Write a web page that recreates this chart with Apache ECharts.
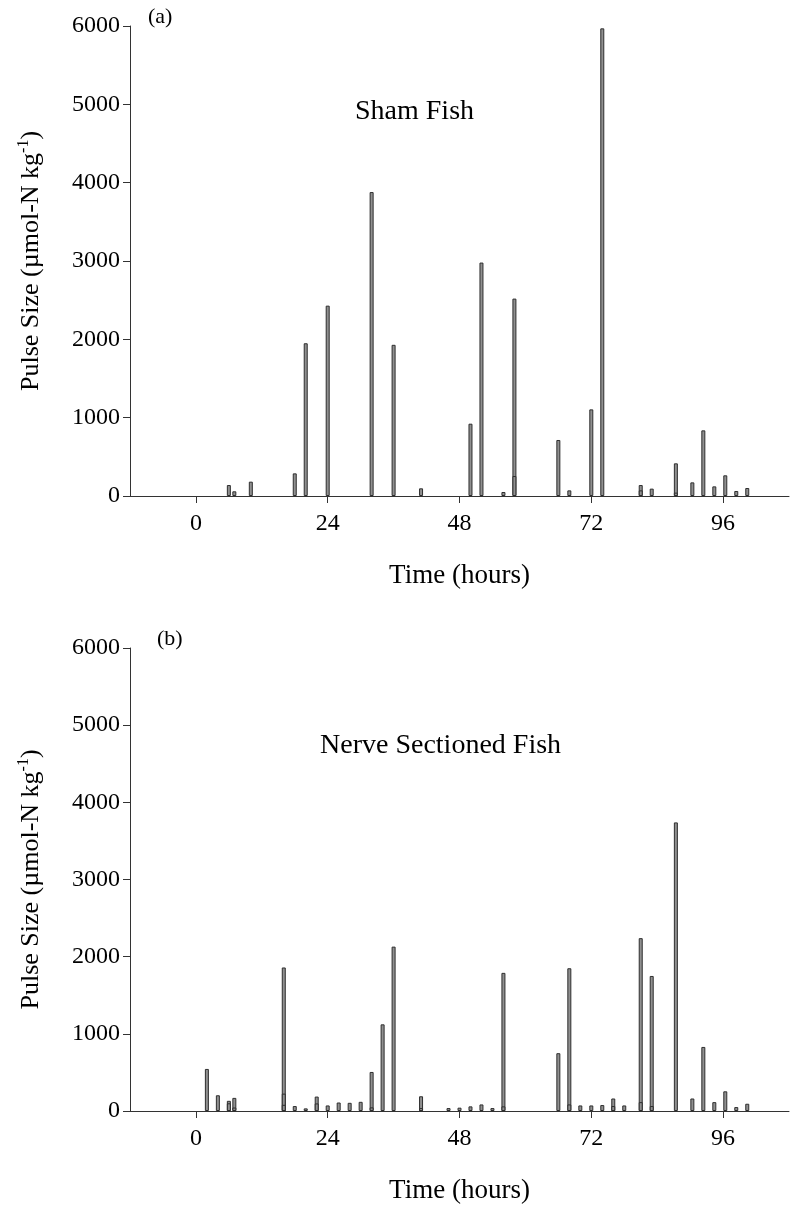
<!DOCTYPE html>
<html>
<head>
<meta charset="utf-8">
<script src="https://cdn.jsdelivr.net/npm/echarts@6/dist/echarts.min.js"></script>
<style>
  html, body { margin: 0; padding: 0; background: #fff; }
  #pulseChart { width: 792px; height: 1205px; }
</style>
</head>
<body>
<div id="pulseChart"></div>
<script>
// x ticks (hours)
var timeTicks = [0, 24, 48, 72, 96]

// (a) sham fish
var shamHours = [6, 7, 10, 18, 20, 24, 32, 36, 41, 50, 52, 56, 58, 66, 68, 72, 74, 81, 83, 87.4, 90.4, 92.4, 94.4, 96.4, 98.4, 100.4]
var shamPulse = [140, 60, 183, 289, 1950, 2430, 3880, 1930, 98, 923, 2980, 51, 2520, 715, 72, 1106, 5970, 140, 94, 417, 174, 838, 123, 264, 64, 102]
// overlapping smaller pulses (the inner lines)
var shamInnerHours = [58, 81, 87.4]
var shamInner = [255, 72, 43]

// (b) nerve sectioned fish
var nerveHours = [2, 4, 6, 7, 16, 18, 20, 22, 24, 26, 28, 30, 32, 34, 36, 41, 46, 48, 50, 52, 54, 56, 66, 68, 70, 72, 74, 76, 78, 81, 83, 87.4, 90.4, 92.4, 94.4, 96.4, 98.4, 100.4]
var nervePulse = [545, 204, 132, 170, 1860, 64, 34, 187, 72, 110, 106, 119, 506, 1123, 2130, 191, 38, 43, 60, 85, 38, 1790, 749, 1850, 72, 72, 77, 162, 72, 2240, 1750, 3740, 162, 830, 115, 255, 51, 94]
var nerveInnerHours = [6, 7, 16, 16, 22, 32, 41, 56, 68, 76, 81, 83]
var nerveInner = [100, 45, 225, 80, 98, 47, 38, 60, 85, 64, 115, 64]

var FONT = 'Liberation Serif'
var axisColor = '#333'

function pairs (xs, ys) {
  return xs.map(function (x, i) { return [x, ys[i]] })
}

function makeX (idx) {
  return {
    type: 'value',
    gridIndex: idx,
    min: -12,
    max: 108,
    name: 'Time (hours)',
    nameLocation: 'middle',
    nameGap: 66,
    nameTextStyle: { fontFamily: FONT, fontSize: 27, color: '#000' },
    axisLine: { show: true, onZero: false, lineStyle: { color: axisColor, width: 1 } },
    axisTick: { show: true, length: 7, customValues: timeTicks, lineStyle: { color: axisColor } },
    axisLabel: { customValues: timeTicks, margin: 16, fontFamily: FONT, fontSize: 24, color: '#000' },
    splitLine: { show: false }
  }
}

function makeY (idx) {
  return {
    type: 'value',
    gridIndex: idx,
    min: 0,
    max: 6000,
    interval: 1000,
    name: '{a|Pulse Size (µmol-N kg}{s|-1}{a|)}',
    nameLocation: 'middle',
    nameRotate: 90,
    nameGap: 84,
    nameTextStyle: {
      color: '#000',
      rich: {
        a: { fontFamily: FONT, fontSize: 26, color: '#000', lineHeight: 30 },
        s: { fontFamily: FONT, fontSize: 16, color: '#000', verticalAlign: 'top', lineHeight: 30 }
      }
    },
    axisLine: { show: true, onZero: false, lineStyle: { color: axisColor, width: 1 } },
    axisTick: { show: true, length: 7, lineStyle: { color: axisColor } },
    axisLabel: {
      margin: 10,
      fontFamily: FONT,
      fontSize: 24,
      color: '#000',
      formatter: function (v) { return String(v) } // no thousands separator
    },
    splitLine: { show: false }
  }
}

var barStyle = { color: '#909090', borderColor: '#2e2e2e', borderWidth: 1 }

function barSeries (idx, data) {
  return {
    type: 'bar',
    xAxisIndex: idx,
    yAxisIndex: idx,
    barWidth: 4,
    barGap: '-100%',
    itemStyle: barStyle,
    silent: true,
    data: data
  }
}

var chart = echarts.init(document.getElementById('pulseChart'), null, { renderer: 'canvas' })
chart.setOption({
  animation: false,
  backgroundColor: '#fff',
  grid: [
    { left: 130, top: 26, width: 659, height: 470 },
    { left: 130, top: 648, width: 659, height: 470 }
  ],
  title: [
    { text: '(a)', left: 148, top: 6, padding: 0, textStyle: { fontFamily: FONT, fontSize: 22, fontWeight: 'normal', color: '#000' } },
    { text: 'Sham Fish', left: 355, top: 98, padding: 0, textStyle: { fontFamily: FONT, fontSize: 28, fontWeight: 'normal', color: '#000' } },
    { text: '(b)', left: 157, top: 628, padding: 0, textStyle: { fontFamily: FONT, fontSize: 22, fontWeight: 'normal', color: '#000' } },
    { text: 'Nerve Sectioned Fish', left: 320, top: 732, padding: 0, textStyle: { fontFamily: FONT, fontSize: 28, fontWeight: 'normal', color: '#000' } }
  ],
  xAxis: [makeX(0), makeX(1)],
  yAxis: [makeY(0), makeY(1)],
  series: [
    barSeries(0, pairs(shamHours, shamPulse)),
    barSeries(0, pairs(shamInnerHours, shamInner)),
    barSeries(1, pairs(nerveHours, nervePulse)),
    barSeries(1, pairs(nerveInnerHours, nerveInner))
  ]
})
</script>
</body>
</html>
